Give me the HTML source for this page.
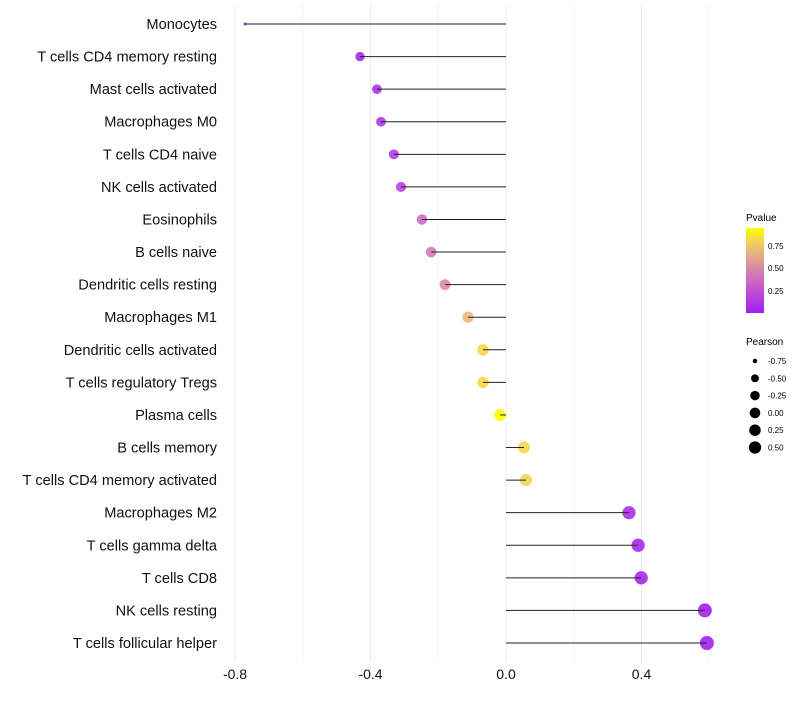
<!DOCTYPE html>
<html><head><meta charset="utf-8"><style>
body{margin:0;background:#fff;font-family:"Liberation Sans",sans-serif}
</style></head><body>
<svg id="chart" width="800" height="700" xmlns="http://www.w3.org/2000/svg">
<defs><linearGradient id="pg" x1="0" y1="1" x2="0" y2="0">
<stop offset="0" stop-color="#a020f0"/><stop offset="0.27" stop-color="#c24fd6"/><stop offset="0.53" stop-color="#d98aa6"/><stop offset="0.8" stop-color="#f1c66a"/><stop offset="1" stop-color="#ffff00"/></linearGradient></defs>
<g id="grid"></g><g id="marks"></g><g id="labels"></g>
<g>
<text x="746" y="221" font-size="10">Pvalue</text>
<rect x="746" y="228" width="18" height="85" fill="url(#pg)"/>
<text x="768" y="249" font-size="8">0.75</text><text x="768" y="271" font-size="8">0.50</text><text x="768" y="294" font-size="8">0.25</text>
</g>
<g id="sizeleg"><text x="746" y="345" font-size="10">Pearson</text></g>
</svg>
<script>
const categories=["Monocytes","T cells CD4 memory resting","Mast cells activated","Macrophages M0","T cells CD4 naive","NK cells activated","Eosinophils","B cells naive","Dendritic cells resting","Macrophages M1","Dendritic cells activated","T cells regulatory  Tregs","Plasma cells","B cells memory","T cells CD4 memory activated","Macrophages M2","T cells gamma delta","T cells CD8","NK cells resting","T cells follicular helper"];
const pearson=[-0.77,-0.431,-0.381,-0.369,-0.331,-0.31,-0.248,-0.221,-0.18,-0.112,-0.068,-0.068,-0.018,0.053,0.059,0.363,0.39,0.399,0.587,0.593];
const pvalue=[0.01,0.04,0.1,0.13,0.17,0.2,0.38,0.45,0.52,0.7,0.82,0.82,0.95,0.82,0.8,0.08,0.06,0.06,0.01,0.01];
const xTicks=[-0.8,-0.4,0.0,0.4];
const xMinor=[-0.6,-0.2,0.2,0.6];
const sizeLegend=[-0.75,-0.5,-0.25,0,0.25,0.5];
const NS="http://www.w3.org/2000/svg";
const x=v=>506+v*338.75, y=i=>24+i*(619/19);
const pmin=Math.min(...pearson),pmax=Math.max(...pearson);
const diam=v=>3+11*Math.pow(Math.max(0,(v-pmin)/(pmax-pmin)),0.4);
const ldiam=v=>0.9*diam(v);
const stops=[[0,[160,32,240]],[0.27,[194,79,214]],[0.53,[217,138,166]],[0.8,[241,198,106]],[1,[255,255,0]]];
function col(p){let t=Math.min(1,Math.max(0,(p-0.01)/0.94));for(let k=1;k<stops.length;k++){if(t<=stops[k][0]){const a=stops[k-1],b=stops[k],f=(t-a[0])/(b[0]-a[0]);return`rgb(${a[1].map((c,j)=>Math.round(c+(b[1][j]-c)*f)).join(',')})`;}}return'rgb(255,255,0)';}
function mk(t,a,p){const e=document.createElementNS(NS,t);for(const k in a)e.setAttribute(k,a[k]);p.appendChild(e);return e;}
const G=document.getElementById('grid'),M=document.getElementById('marks'),L=document.getElementById('labels');
xMinor.forEach(v=>{const l=mk('line',{x1:x(v),x2:x(v),y1:5,y2:662,stroke:'#f3f3f3','stroke-width':1},G);

});
xTicks.forEach(v=>{const l=mk('line',{x1:x(v),x2:x(v),y1:5,y2:662,stroke:'#ebebeb','stroke-width':1},G);


const t=mk('text',{x:x(v),y:679,'font-size':14,'text-anchor':'middle',fill:'#111'},L);t.textContent=v.toFixed(1);

});
categories.forEach((c,i)=>{
const cc=mk('circle',{cx:x(pearson[i]),cy:y(i),r:diam(pearson[i])/2,fill:col(pvalue[i]),'fill-opacity':0.9},M);


const l=mk('line',{x1:x(0),x2:x(pearson[i]),y1:y(i),y2:y(i),stroke:'#222','stroke-width':1},M);


const t=mk('text',{x:217,y:y(i)+5,'font-size':14.6,'text-anchor':'end',fill:'#111'},L);t.textContent=c;

});
const S=document.getElementById('sizeleg');
sizeLegend.forEach((v,i)=>{const yy=361+i*17.3;
const c=mk('circle',{cx:755,cy:yy,r:ldiam(v)/2,fill:'#000'},S);


const t=mk('text',{x:768,y:yy+3,'font-size':8},S);t.textContent=v.toFixed(2);

});
</script>
</body></html>
